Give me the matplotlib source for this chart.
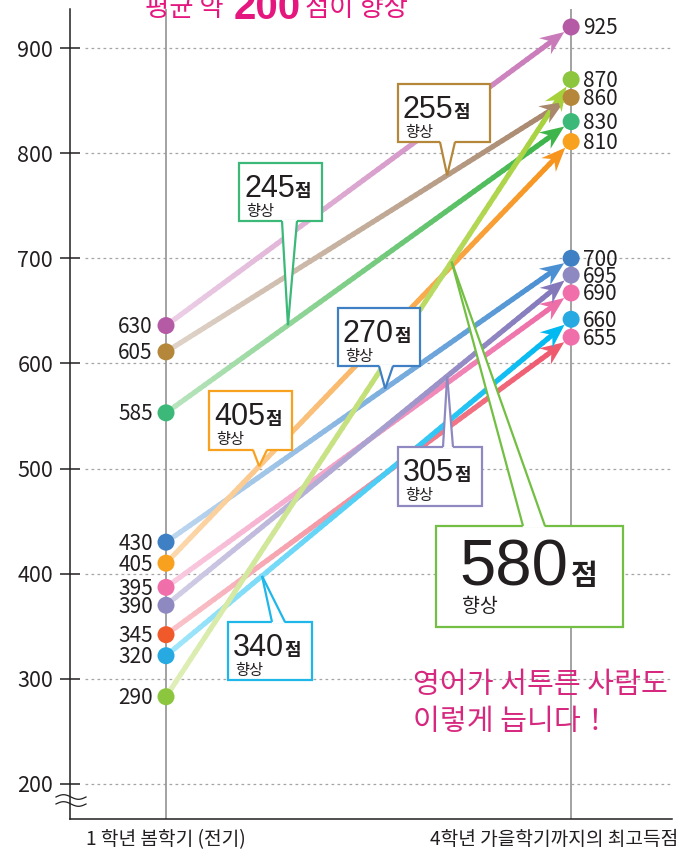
import numpy as np
import matplotlib
matplotlib.use('Agg')
import matplotlib.pyplot as plt
from matplotlib.patches import Polygon, Rectangle
from matplotlib.collections import LineCollection
from matplotlib.transforms import ScaledTranslation
import matplotlib.colors as mcolors

plt.rcParams['font.family'] = ['Noto Sans CJK KR', 'DejaVu Sans']

W, H, DPI = 683, 852, 100
INK = '#231f20'

# ---------------- data ----------------
categories = ['1 학년 봄학기 (전기)', '4학년 가을학기까지의 최고득점']
start_labels = [630, 605, 585, 430, 405, 395, 390, 345, 320, 290]
end_labels = [925, 860, 830, 700, 810, 690, 695, 655, 660, 870]
# vertical positions of the dots as drawn in the picture
start_pos = [636, 611, 553, 430, 410, 387, 370, 342, 322, 283]
end_pos = [920, 853, 830, 700, 811, 667, 684, 625, 642, 870]
yticks = [200, 300, 400, 500, 600, 700, 800, 900]

gain_values = [245, 255, 270, 405, 305, 340, 580]
gain_series = [2, 1, 3, 4, 6, 8, 9]
gain_unit = '점'
gain_word = '향상'

title_parts = ['평균 약 ', '200', '점이 향상']
note_lines = ['영어가 서투른 사람도', '이렇게 늡니다！']

start_colors = ['#b55ba6', '#b5873a', '#3cb878', '#3f7fc3', '#f7a11e',
                '#f06faa', '#8e89c0', '#f05a2b', '#27aae1', '#8cc63f']
end_colors = ['#b55ba6', '#b5873a', '#3cb878', '#3f7fc3', '#f7a11e',
              '#f06faa', '#8e89c0', '#f06faa', '#27aae1', '#8cc63f']
line_colors = ['#c97ab9', '#a8876c', '#3db54a', '#4a90d2', '#f7941e',
               '#ee6ea8', '#8478bb', '#ef5a6f', '#00b9f1', '#a6d13a']
callout_colors = ['#3cb878', '#b5873a', '#3f7fc3', '#f7a11e', '#8e89c0', '#1fb7ea', '#72bf44']

# ---------------- figure ----------------
fig = plt.figure(figsize=(W / DPI, H / DPI), dpi=DPI)
ax = fig.add_axes([70 / W, 1 - 819 / H, (672 - 70) / W, (819 - 9) / H])
ax.set_xlim(0.763, 2.249)
ax.set_ylim(166.7, 937.1)

for s in ['top', 'right']:
    ax.spines[s].set_visible(False)
for s in ['left', 'bottom']:
    ax.spines[s].set_color(INK)
    ax.spines[s].set_linewidth(1.1)

ax.set_yticks(yticks)
ax.set_yticklabels([str(v) for v in yticks])
ax.tick_params(axis='y', direction='inout', length=14.4, width=1.1, color=INK,
               labelsize=15.5, labelcolor=INK, pad=5)
ax.set_xticks([1, 2])
ax.set_xticklabels(categories)
ax.tick_params(axis='x', length=0, labelsize=13.8, labelcolor=INK, pad=7)
lbls = ax.get_xticklabels()
lbls[1].set_transform(lbls[1].get_transform() + ScaledTranslation(-17 / DPI, 0, fig.dpi_scale_trans))

for v in yticks:
    ax.plot([0.8, 2.249], [v, v], color='#a5a5a5', lw=0.9, ls=(0, (2.2, 2.6)), zorder=1)
for xv in [1, 2]:
    ax.axvline(xv, color='#9b9b9b', lw=1.3, zorder=1)

# ---------------- gradient arrows ----------------
R, HL, HW, NOTCH = 8.5, 24, 10, 8
inv = ax.transData.inverted()
ts = np.linspace(0, 1, 81)
for i in range(len(start_pos)):
    p0 = ax.transData.transform((1, start_pos[i]))
    p1 = ax.transData.transform((2, end_pos[i]))
    d = p1 - p0
    u = d / np.hypot(*d)
    nrm = np.array([-u[1], u[0]])
    tip = p1 - u * R
    base = tip - u * HL
    notch = tip - u * (HL - NOTCH)
    pts = p0 + np.outer(ts, notch - p0)
    pd_ = inv.transform(pts)
    segs = np.stack([pd_[:-1], pd_[1:]], axis=1)
    full = np.array(mcolors.to_rgb(line_colors[i]))
    mids = (ts[:-1] + ts[1:]) / 2
    cols = [1 - (1 - full) * (0.35 + 0.65 * t) for t in mids]
    ax.add_collection(LineCollection(segs, colors=cols, linewidths=3.7,
                                     capstyle='round', zorder=3))
    head = inv.transform(np.array([tip, base + nrm * HW, notch, base - nrm * HW]))
    ax.add_patch(Polygon(head, closed=True, fc=full, ec='none', zorder=4))

ax.scatter([1] * len(start_pos), start_pos, s=150, c=start_colors, linewidths=0, zorder=6)
ax.scatter([2] * len(end_pos), end_pos, s=150, c=end_colors, linewidths=0, zorder=6)

for i in range(len(start_pos)):
    ax.annotate(str(start_labels[i]), xy=(1, start_pos[i]), xytext=(-9.5, -5.4),
                textcoords='offset points', ha='right', va='baseline',
                fontsize=15, color=INK, zorder=7)
    ax.annotate(str(end_labels[i]), xy=(2, end_pos[i]), xytext=(8.6, -5.4),
                textcoords='offset points', ha='left', va='baseline',
                fontsize=15, color=INK, zorder=7)

# ---------------- overlay (pixel coordinates) ----------------
ov = fig.add_axes([0, 0, 1, 1], zorder=5)
ov.set_xlim(0, W)
ov.set_ylim(H, 0)
ov.axis('off')
ov.patch.set_alpha(0)

# callout layout: box (l, t, w, h), pointer base x range, tip x (data), side
layout = [
    dict(box=(239, 163, 83, 58), base=(282, 297), tipx=1.301, side='bottom', big=False),
    dict(box=(398, 84, 92, 58), base=(440, 455), tipx=1.694, side='bottom', big=False),
    dict(box=(338, 308, 82, 58), base=(379, 393), tipx=1.541, side='bottom', big=False),
    dict(box=(209, 391, 83, 59), base=(253, 267), tipx=1.230, side='bottom', big=False),
    dict(box=(398, 447, 84, 59), base=(443, 453), tipx=1.694, side='top', big=False),
    dict(box=(228, 622, 84, 58), base=(272, 285), tipx=1.237, side='top', big=False),
    dict(box=(436, 526, 187, 101), base=(523, 545), tipx=1.705, side='top', big=True),
]

num_texts = []
for k, lay in enumerate(layout):
    col = callout_colors[k]
    sidx = gain_series[k]
    l, t, w, h = lay['box']
    ov.add_patch(Rectangle((l, t), w, h, fc='white', ec=col, lw=1.6, zorder=10))
    yv = start_pos[sidx] + (end_pos[sidx] - start_pos[sidx]) * (lay['tipx'] - 1)
    tdisp = ax.transData.transform((lay['tipx'], yv))
    tip = (tdisp[0], H - tdisp[1])
    if lay['side'] == 'bottom':
        by, byin = t + h, t + h - 1.6
    else:
        by, byin = t, t + 1.6
    b0, b1 = lay['base']
    ov.add_patch(Polygon([(b0, byin), (b1, byin), tip], closed=True, fc='white',
                         ec='none', zorder=11))
    ov.plot([b0, tip[0]], [by, tip[1]], color=col, lw=1.6, zorder=12, solid_capstyle='butt')
    ov.plot([b1, tip[0]], [by, tip[1]], color=col, lw=1.6, zorder=12, solid_capstyle='butt')
    if lay['big']:
        nt = ov.text(l + 23, t + 59, str(gain_values[k]), fontsize=47,
                     family='Liberation Sans', color=INK, va='baseline', ha='left', zorder=13)
        ov.text(l + 26, t + 86, gain_word, fontsize=14, color=INK, va='baseline', zorder=13)
    else:
        nt = ov.text(l + 5, t + 34, str(gain_values[k]), fontsize=22,
                     family='Liberation Sans', color=INK, va='baseline', ha='left', zorder=13)
        ov.text(l + 7, t + 53, gain_word, fontsize=11, color=INK, va='baseline', zorder=13)
    num_texts.append((nt, lay))

renderer = fig.canvas.get_renderer()
for nt, lay in num_texts:
    bb = nt.get_window_extent(renderer)
    x_unit = bb.x1 + (3 if lay['big'] else 0)
    l, t, w, h = lay['box']
    ov.text(x_unit, t + (59 if lay['big'] else 34), gain_unit,
            fontsize=21 if lay['big'] else 13, fontweight='bold', color=INK,
            va='baseline', ha='left', zorder=13)

# title (cut off at the top edge)
MAG = '#e5177f'
x = 145
for part, size, weight, yb in zip(title_parts, [19, 29, 19], ['normal', 'bold', 'normal'], [16, 19, 16]):
    fam = 'Liberation Sans' if part.strip().isdigit() else None
    kw = dict(family=fam) if fam else {}
    tt = ov.text(x, yb, part, fontsize=size, fontweight=weight, color=MAG,
                 va='baseline', ha='left', **kw)
    x = tt.get_window_extent(renderer).x1 + 4

# note text
NOTE = '#d6287f'
ov.text(413, 693, note_lines[0], fontsize=21, color=NOTE, va='baseline', ha='left')
ov.text(413, 730, note_lines[1], fontsize=21, color=NOTE, va='baseline', ha='left')

# axis break mark
xs = np.linspace(56, 86, 40)
for yc in (797, 804):
    ov.plot(xs, yc - 2.3 * np.sin(2 * np.pi * (xs - 56) / 30), color=INK, lw=0.9)

fig.savefig('out.png', dpi=DPI)
